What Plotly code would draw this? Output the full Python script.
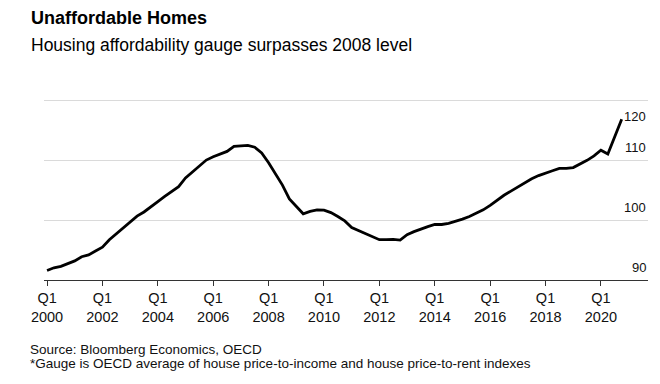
import plotly.graph_objects as go

# ---- data (quarterly, 2000Q1 .. 2020Q4) ----
quarters = [f"{y}Q{q}" for y in range(2000, 2021) for q in range(1, 5)]
gauge = [
    91.6, 92.05, 92.3, 92.75,
    93.2, 93.9, 94.2, 94.85,
    95.5, 96.75, 97.75, 98.7,
    99.75, 100.7, 101.4, 102.35,
    103.15, 104.0, 104.9, 105.65,
    107.1, 108.1, 109.2, 110.1,
    110.65, 111.1, 111.55, 112.4,
    112.5, 112.55, 112.25, 111.3,
    109.65, 107.8, 105.9, 103.6,
    102.4, 101.1, 101.5, 101.75,
    101.7, 101.3, 100.65, 99.9,
    98.8, 98.3, 97.85, 97.35,
    96.75, 96.75, 96.8, 96.7,
    97.6, 98.1, 98.55, 98.95,
    99.3, 99.3, 99.5, 99.8,
    100.2, 100.65, 101.15, 101.75,
    102.5, 103.4, 104.2, 104.9,
    105.6, 106.3, 106.95, 107.5,
    107.95, 108.3, 108.7, 108.7,
    108.85, 109.45, 110.05, 110.8,
    111.75, 111.1, 113.9, 116.95,
]
x_tick_years = list(range(2000, 2021, 2))
x_tick_text = [f"Q1<br>{y}" for y in x_tick_years]
y_ticks = [90, 100, 110, 120]

title = "Unaffordable Homes"
subtitle = "Housing affordability gauge surpasses 2008 level"
source = "Source: Bloomberg Economics, OECD"
note = "*Gauge is OECD average of house price-to-income and house price-to-rent indexes"

# numeric positions for quarters
xpos = [int(s[:4]) + (int(s[-1]) - 1) / 4 for s in quarters]

FONT = "Liberation Sans, Arial, sans-serif"
W, H = 660, 384
L, R, T, B = 44, 12, 98, 104
PH = H - T - B
PW = W - L - R


def py(p):
    return (H - B - p) / PH


def px(p):
    return (p - L) / PW


fig = go.Figure()
fig.add_trace(go.Scatter(
    x=xpos, y=gauge, mode="lines",
    line=dict(color="#000000", width=2.8),
    hoverinfo="skip", showlegend=False,
))

annotations = []
# y tick labels (inside, right, above gridlines; top one below)
for v in y_ticks:
    shift = -16 if v == max(y_ticks) else 13
    annotations.append(dict(
        x=1, xref="paper", y=v, yref="y", text=str(v), showarrow=False,
        xanchor="right", yanchor="middle", yshift=shift,
        font=dict(family=FONT, size=13, color="#111111"),
    ))
annotations += [
    dict(x=px(29), y=py(18), xref="paper", yref="paper", text=f"<b>{title}</b>",
         showarrow=False, xanchor="left", yanchor="middle",
         font=dict(family=FONT, size=18, color="#000000")),
    dict(x=px(29), y=py(45), xref="paper", yref="paper", text=subtitle,
         showarrow=False, xanchor="left", yanchor="middle",
         font=dict(family=FONT, size=17.5, color="#000000")),
    dict(x=px(28), y=py(349), xref="paper", yref="paper", text=source,
         showarrow=False, xanchor="left", yanchor="middle",
         font=dict(family=FONT, size=13.5, color="#111111")),
    dict(x=px(28), y=py(363), xref="paper", yref="paper", text=note,
         showarrow=False, xanchor="left", yanchor="middle",
         font=dict(family=FONT, size=13.5, color="#111111")),
]

fig.update_layout(
    width=W, height=H,
    margin=dict(l=L, r=R, t=T, b=B, pad=0),
    paper_bgcolor="white", plot_bgcolor="white",
    annotations=annotations,
    xaxis=dict(
        range=[1999.89, 2021.70],
        tickvals=x_tick_years, ticktext=x_tick_text,
        showgrid=False, zeroline=False,
        showline=True, linecolor="#333333", linewidth=1,
        ticks="outside", ticklen=5, tickcolor="#333333", tickwidth=1,
        tickfont=dict(family=FONT, size=14.5, color="#111111"),
    ),
    yaxis=dict(
        range=[90, 120.5], tickvals=y_ticks, showticklabels=False,
        showgrid=True, gridcolor="#dadada", gridwidth=1,
        zeroline=False, showline=False, ticks="",
    ),
)

fig.write_html("out.html", config={"displayModeBar": False},
               post_script="document.body.style.margin='0';")
